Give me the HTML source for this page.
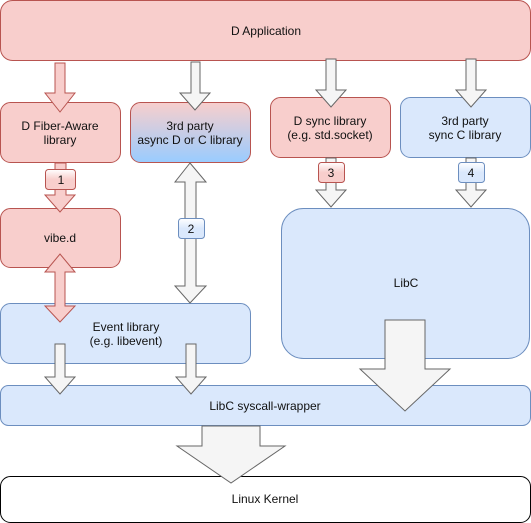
<!DOCTYPE html>
<html><head><meta charset="utf-8"><style>
html,body{margin:0;padding:0;background:#fff;}
svg{display:block;}
text{font-family:"Liberation Sans",sans-serif;font-size:12px;fill:#111;text-anchor:middle;}
</style></head><body>
<svg width="531" height="523" viewBox="0 0 531 523" xmlns="http://www.w3.org/2000/svg">
<defs>
<linearGradient id="g1" x1="0" y1="0" x2="0" y2="1"><stop offset="0" stop-color="#f8cecc"/><stop offset="1" stop-color="#99ccff"/></linearGradient>
<linearGradient id="lr" x1="0" y1="0" x2="0" y2="1"><stop offset="0" stop-color="#fff"/><stop offset="0.5" stop-color="#f8cecc"/><stop offset="1" stop-color="#f8cecc"/></linearGradient>
<linearGradient id="lb" x1="0" y1="0" x2="0" y2="1"><stop offset="0" stop-color="#fff"/><stop offset="0.5" stop-color="#dae8fc"/><stop offset="1" stop-color="#dae8fc"/></linearGradient>
</defs>
<!-- boxes -->
<rect x="0.5" y="0.5" width="530" height="60" rx="12" fill="#f8cecc" stroke="#b85450"/>
<text x="266" y="35">D Application</text>
<rect x="0.5" y="102.5" width="120" height="60" rx="10" fill="#f8cecc" stroke="#b85450"/>
<text x="60" y="130">D Fiber-Aware</text><text x="60" y="144">library</text>
<rect x="130.5" y="102.5" width="120" height="60" rx="10" fill="url(#g1)" stroke="#b85450"/>
<text x="190" y="130">3rd party</text><text x="190" y="144">async D or C library</text>
<rect x="270.5" y="97.5" width="120" height="60" rx="10" fill="#f8cecc" stroke="#b85450"/>
<text x="330" y="125">D sync library</text><text x="330" y="139">(e.g. std.socket)</text>
<rect x="400.5" y="97.5" width="130" height="60" rx="10" fill="#dae8fc" stroke="#6c8ebf"/>
<text x="465" y="125">3rd party</text><text x="465" y="139">sync C library</text>
<rect x="0.5" y="208.5" width="120" height="59" rx="10" fill="#f8cecc" stroke="#b85450"/>
<text x="60" y="242">vibe.d</text>
<rect x="0.5" y="303.5" width="250" height="60" rx="10" fill="#dae8fc" stroke="#6c8ebf"/>
<text x="126" y="331">Event library</text><text x="126" y="345">(e.g. libevent)</text>
<rect x="281.5" y="208.5" width="248" height="150" rx="22" fill="#dae8fc" stroke="#6c8ebf"/>
<text x="406" y="287">LibC</text>
<rect x="0.5" y="385.5" width="530" height="40" rx="8" fill="#dae8fc" stroke="#6c8ebf"/>
<text x="265" y="410">LibC syscall-wrapper</text>
<rect x="0.5" y="476.5" width="530" height="46" rx="10" fill="#fff" stroke="#000"/>
<text x="265" y="503">Linux Kernel</text>
<!-- arrows from app -->
<polygon points="55,63 65,63 65,93 75,93 60,112 45,93 55,93" fill="#f8cecc" stroke="#b85450"/>
<polygon points="191,62 200,62 200,93 210,93 195,110 180,93 191,93" fill="#f5f5f5" stroke="#666"/>
<polygon points="326,59 336,59 336,90 346,90 331,107 316,90 326,90" fill="#f5f5f5" stroke="#666"/>
<polygon points="466,59 476,59 476,90 486,90 471,107 456,90 466,90" fill="#f5f5f5" stroke="#666"/>
<!-- arrow 1 -->
<polygon points="55,163 66,163 66,195 75,195 60,212 45,195 55,195" fill="#f8cecc" stroke="#b85450"/>
<rect x="45.5" y="169.5" width="30" height="20" rx="3" fill="url(#lr)" stroke="#b85450"/>
<text x="61" y="184">1</text>
<!-- arrow 2 double -->
<polygon points="190,163 206,182 196,182 196,286 206,286 190,303 175,286 185,286 185,182 175,182" fill="#f5f5f5" stroke="#666"/>
<rect x="178.5" y="218.5" width="26" height="20" rx="3" fill="url(#lb)" stroke="#6c8ebf"/>
<text x="191" y="233">2</text>
<!-- arrows 3 and 4 -->
<polygon points="326,158 336,158 336,190 346,190 331,207 316,190 326,190" fill="#f5f5f5" stroke="#666"/>
<rect x="318.5" y="162.5" width="26" height="20" rx="3" fill="url(#lr)" stroke="#b85450"/>
<text x="331" y="177">3</text>
<polygon points="466,158 476,158 476,190 486,190 471,207 456,190 466,190" fill="#f5f5f5" stroke="#666"/>
<rect x="458.5" y="162.5" width="26" height="20" rx="3" fill="url(#lb)" stroke="#6c8ebf"/>
<text x="471" y="177">4</text>
<!-- vibe <-> event -->
<polygon points="60,254 75,272 65,272 65,306 75,306 60,322 45,306 55,306 55,272 45,272" fill="#f8cecc" stroke="#b85450"/>
<!-- event -> syscall -->
<polygon points="55,344 65,344 65,377 75,377 60,394 45,377 55,377" fill="#f5f5f5" stroke="#666"/>
<polygon points="186,344 196,344 196,377 206,377 191,394 176,377 186,377" fill="#f5f5f5" stroke="#666"/>
<!-- libc big arrow -->
<polygon points="385,320 425,320 425,369 450,369 405,411 360,369 385,369" fill="#f5f5f5" stroke="#666"/>
<!-- kernel arrow -->
<polygon points="202,426 260,426 260,446 285,446 231,483 177,446 202,446" fill="#f5f5f5" stroke="#666"/>
</svg>
</body></html>
